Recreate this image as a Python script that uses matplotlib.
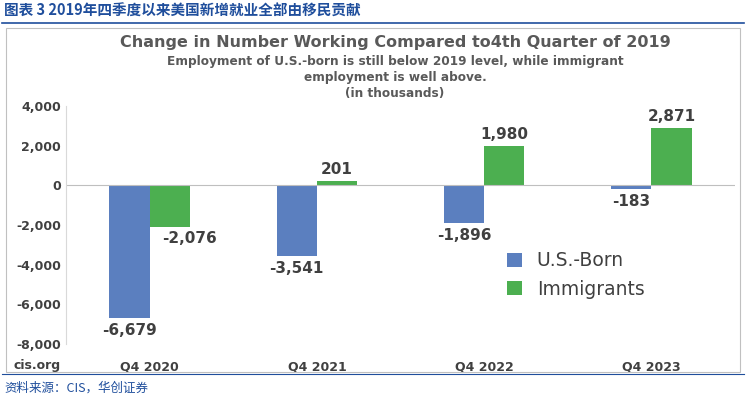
import matplotlib.pyplot as plt
import numpy as np

quarters = ["Q4 2020", "Q4 2021", "Q4 2022", "Q4 2023"]
us_born = [-6679, -3541, -1896, -183]
immigrants = [-2076, 201, 1980, 2871]
yticks = [-8000, -6000, -4000, -2000, 0, 2000, 4000]

blue = "#5b7fbf"
green = "#4caf50"
grey = "#404040"

fig = plt.figure(figsize=(7.46, 4.0), dpi=100)
W, H = 746, 400

def fx(px):
    return px / W

def fy(py):
    return 1 - py / H

# header and footer
fig.text(fx(4), fy(11), "图表 3 2019年四季度以来美国新增就业全部由移民贡献",
         family="Noto Sans CJK SC", weight="bold", color="#1f4e9c",
         fontsize=10.5, va="center")
fig.add_artist(plt.Line2D([fx(2), fx(744)], [fy(23), fy(23)], color="#1f4e9c", lw=1.2))
fig.add_artist(plt.Line2D([fx(2), fx(744)], [fy(374), fy(374)], color="#1f4e9c", lw=0.8))
fig.text(fx(4), fy(388), "资料来源：CIS，华创证券", family="Noto Sans CJK SC",
         style="italic", color="#1f4e9c", fontsize=9, va="center")
fig.add_artist(plt.Rectangle((fx(6), fy(372)), fx(734), fy(28) - fy(372),
                             fill=False, ec="#c0c0c0", lw=0.8))

# chart titles
fig.text(fx(395), fy(43), "Change in Number Working Compared to4th Quarter of 2019",
         ha="center", va="center", weight="bold", color="#595959", fontsize=11.5)
fig.text(fx(395), fy(61), "Employment of U.S.-born is still below 2019 level, while immigrant",
         ha="center", va="center", weight="bold", color="#595959", fontsize=8.7)
fig.text(fx(395), fy(77), "employment is well above.",
         ha="center", va="center", weight="bold", color="#595959", fontsize=8.7)
fig.text(fx(395), fy(93), "(in thousands)",
         ha="center", va="center", weight="bold", color="#595959", fontsize=8.7)

ax = fig.add_axes([fx(66), fy(344), fx(735) - fx(66), fy(106) - fy(344)])
x = np.arange(len(quarters))
w = 0.24
ax.bar(x - w / 2, us_born, w, color=blue, label="U.S.-Born")
ax.bar(x + w / 2, immigrants, w, color=green, label="Immigrants")
ax.set_xlim(-0.5, 3.5)
ax.set_ylim(-8000, 4000)
ax.set_yticks(yticks)
ax.set_yticklabels([f"{v:,}" for v in yticks], fontsize=9, weight="bold", color=grey)
ax.set_xticks(x)
ax.set_xticklabels(quarters, fontsize=9, weight="bold", color=grey)
ax.tick_params(axis="x", length=0, pad=12)
ax.tick_params(axis="y", length=0)
ax.axhline(0, color="#bfbfbf", lw=0.8)
for s in ["top", "right", "bottom"]:
    ax.spines[s].set_visible(False)
ax.spines["left"].set_color("#d9d9d9")

for i in range(len(quarters)):
    v = us_born[i]
    ax.text(i - w / 2, v - 250, f"{v:,}", ha="center", va="top",
            fontsize=11, weight="bold", color=grey)
    v = immigrants[i]
    if v < 0:
        ax.text(i + w / 2 + 0.12, v - 250, f"{v:,}", ha="center", va="top",
                fontsize=11, weight="bold", color=grey)
    else:
        ax.text(i + w / 2, v + 200, f"{v:,}", ha="center", va="bottom",
                fontsize=11, weight="bold", color=grey)

ax.legend(loc="lower right", bbox_to_anchor=(0.89, 0.12), frameon=False,
          fontsize=13.5, handlelength=0.8, handleheight=0.8, labelcolor=grey)
fig.text(fx(14), fy(365), "cis.org", fontsize=9, weight="bold", color=grey, va="center")

fig.savefig("out.png", dpi=100)
